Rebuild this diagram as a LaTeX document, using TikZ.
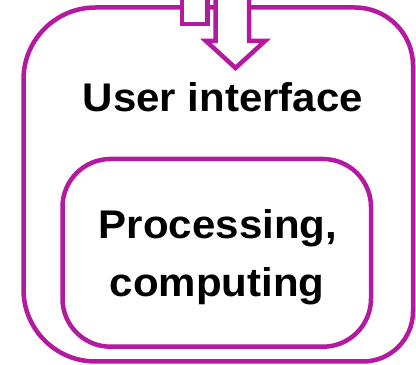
\documentclass[tikz,border=0pt]{standalone}
\usepackage{graphicx}
\usepackage{fontspec}
\setmainfont{Liberation Sans}
\definecolor{frame}{RGB}{180,26,160}
\tikzset{
  boxline/.style={draw=frame, line width=4.5pt},
  arrowline/.style={draw=frame, line width=4.5pt, fill=white, line join=miter, miter limit=10},
  lbl/.style={inner sep=0pt, text=black, font=\bfseries\fontsize{40}{48}\selectfont}
}
\newcommand{\wide}[1]{\scalebox{1.05}[1]{#1}}
\begin{document}
\begin{tikzpicture}[x=1pt,y=1pt]
  \clip (0,0) rectangle (416,365);
  \fill[white] (0,0) rectangle (416,365);

  % outer frame: user interface layer
  \draw[boxline] (23.5,75.5) -- (23.5,285.5)
    arc[start angle=180, end angle=90, radius=72] -- (355,357.5)
    arc[start angle=90, end angle=0, radius=58] -- (413,53.5)
    arc[start angle=0, end angle=-90, radius=50] -- (95.5,3.5)
    arc[start angle=-90, end angle=-180, radius=72] -- cycle;

  % inner frame: processing layer
  \draw[boxline, rounded corners=48pt] (62.5,18.3) rectangle (371,206);

  % outgoing arrow tail and incoming block arrow
  \draw[arrowline] (182,375) -- (182,341) -- (207.5,341) -- (207.5,375);
  \draw[arrowline] (215.5,375) -- (215.5,324) -- (206,324) -- (235.5,297)
    -- (265,324) -- (249,324) -- (249,375);

  % labels
  \node[lbl, anchor=base] (ui) at (223,253.3) {\wide{User interface}};
  \node[lbl, anchor=base] (proc) at (218,126.7) {\wide{Processing,}};
  \node[lbl, anchor=base] (comp) at (217,68.3) {\wide{computing}};
\end{tikzpicture}
\end{document}
